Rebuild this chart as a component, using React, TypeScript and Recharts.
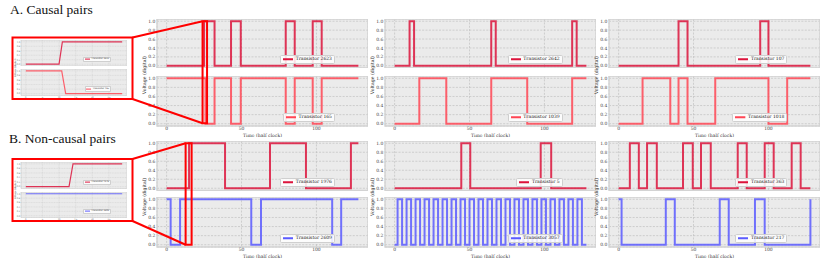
import React from 'react';
import { LineChart, Line, XAxis, YAxis, CartesianGrid, ReferenceArea, Legend } from 'recharts';

// step series: time of each level change (half clock) and the level from there on
const t2623 = [0, 25, 32, 43, 49.5, 79.5, 85.5, 97.5, 103.5, 128];
const v2623 = [0, 1, 0, 1, 0, 1, 0, 1, 0, 0];
const t165 = [0, 26, 32, 43, 49.5, 79.5, 85.5, 97.5, 103.5, 128];
const v165 = [1, 0, 1, 0, 1, 0, 1, 0, 1, 1];
const t2642 = [0, 10, 13, 64.5, 67.5, 118.5, 121.5, 128];
const v2642 = [0, 1, 0, 1, 0, 1, 0, 0];
const t1039 = [0, 16.5, 34.5, 64.5, 88.5, 118.5, 128];
const v1039 = [0, 1, 0, 1, 0, 1, 1];
const t107 = [0, 40, 46, 94.5, 100, 128];
const v107 = [0, 1, 0, 1, 0, 0];
const t1018 = [0, 16, 34.5, 40, 46, 64.5, 100, 112.5, 128];
const v1018 = [0, 1, 0, 1, 0, 1, 0, 1, 1];

const t1976 = [0, 15, 39, 69, 93, 123, 128];
const v1976 = [0, 1, 0, 1, 0, 1, 1];
const t2609 = [0, 2.7, 9, 56.5, 63, 110.5, 116.5, 128];
const v2609 = [1, 0, 1, 0, 1, 0, 1, 1];
const t5 = [0, 44.5, 50.5, 97.5, 104.5, 128];
const v5 = [0, 1, 0, 1, 0, 0];
const t3057 = [0, 2, 5, 8, 11, 14, 17, 20, 23, 26, 29, 32, 35, 38, 41, 44, 47, 50, 53, 56, 59, 62, 65, 68, 71, 74, 77, 80, 83, 86, 89, 92, 95, 98, 101, 104, 107, 110, 113, 116, 119, 122, 125, 128];
const v3057 = [0, 1, 0, 1, 0, 1, 0, 1, 0, 1, 0, 1, 0, 1, 0, 1, 0, 1, 0, 1, 0, 1, 0, 1, 0, 1, 0, 1, 0, 1, 0, 1, 0, 1, 0, 1, 0, 1, 0, 1, 0, 1, 0, 0];
const t363 = [0, 7.5, 13.5, 19, 25.5, 43, 49.5, 55, 61.5, 79.5, 85.5, 97.5, 103.5, 115.5, 121.5, 128];
const v363 = [0, 1, 0, 1, 0, 1, 0, 1, 0, 1, 0, 1, 0, 1, 0, 0];
const t217 = [0, 2, 31.5, 37.5, 67.5, 73.5, 91, 97.5, 128];
const v217 = [1, 0, 1, 0, 1, 0, 1, 0, 1];

// zoomed insets (linear)
const tInsetA1 = [0, 10, 11, 29];
const vInsetA1 = [0, 0, 1, 1];
const tInsetA2 = [0, 10.8, 12, 29];
const vInsetA2 = [1, 1, 0, 0];
const tInsetB1 = [0, 13, 14.2, 29];
const vInsetB1 = [0, 0, 1, 1];
const tInsetB2 = [0, 29];
const vInsetB2 = [1, 1];

const zoomA = [24, 27];
const zoomB = [12.7, 16.7];

const xTicks = [0, 50, 100];
const yTicks = [0, 0.2, 0.4, 0.6, 0.8, 1.0];
const insetXTicks = [0, 5, 10, 15, 20, 25];

const FONT = '"DejaVu Serif", serif';
const RED = '#dc143c';
const PINK = '#ff4655';
const BLUE = '#5b5bff';

const X_DOMAIN: [number, number] = [-6.4, 134.4];
const Y_DOMAIN: [number, number] = [-0.05, 1.05];
const PLOT_W = 211;
const COL_LEFT = [157, 384.7, 609.4];
const ROWS = [
  { top: 19, h: 49, showX: false },
  { top: 75.5, h: 50, showX: true },
  { top: 141, h: 49.5, showX: false },
  { top: 197, h: 50, showX: true },
];

const IX_DOMAIN: [number, number] = [-1.45, 30.45];
const IY_DOMAIN: [number, number] = [-0.08, 1.08];
const INSET_LEFT = 21;
const INSET_W = 106;

const toRows = (ts: number[], vs: number[]) => ts.map((t, i) => ({ t, v: vs[i] }));

const mainPanels = [
  { col: 0, row: 0, name: 'Transistor 2623', t: t2623, v: v2623, color: RED },
  { col: 0, row: 1, name: 'Transistor 165', t: t165, v: v165, color: PINK },
  { col: 1, row: 0, name: 'Transistor 2642', t: t2642, v: v2642, color: RED },
  { col: 1, row: 1, name: 'Transistor 1039', t: t1039, v: v1039, color: PINK },
  { col: 2, row: 0, name: 'Transistor 107', t: t107, v: v107, color: RED },
  { col: 2, row: 1, name: 'Transistor 1018', t: t1018, v: v1018, color: PINK },
  { col: 0, row: 2, name: 'Transistor 1976', t: t1976, v: v1976, color: RED },
  { col: 0, row: 3, name: 'Transistor 2609', t: t2609, v: v2609, color: BLUE },
  { col: 1, row: 2, name: 'Transistor 5', t: t5, v: v5, color: RED },
  { col: 1, row: 3, name: 'Transistor 3057', t: t3057, v: v3057, color: BLUE },
  { col: 2, row: 2, name: 'Transistor 363', t: t363, v: v363, color: RED },
  { col: 2, row: 3, name: 'Transistor 217', t: t217, v: v217, color: BLUE },
];

const insetPanels = [
  { top: 39.5, h: 26, showX: false, name: 'Transistor 2623', t: tInsetA1, v: vInsetA1, color: RED },
  { top: 68.5, h: 26.5, showX: true, name: 'Transistor 165', t: tInsetA2, v: vInsetA2, color: PINK },
  { top: 162, h: 26.5, showX: false, name: 'Transistor 1976', t: tInsetB1, v: vInsetB1, color: RED },
  { top: 192, h: 25.5, showX: true, name: 'Transistor 2609', t: tInsetB2, v: vInsetB2, color: BLUE },
];

const xPx = (col: number, t: number) =>
  COL_LEFT[col] + ((t - X_DOMAIN[0]) / (X_DOMAIN[1] - X_DOMAIN[0])) * PLOT_W;
const yPx = (row: number, v: number) =>
  ROWS[row].top + ((Y_DOMAIN[1] - v) / (Y_DOMAIN[1] - Y_DOMAIN[0])) * ROWS[row].h;

function LegendBox({ label, color, fs }: { label: string; color: string; fs: number }) {
  return (
    <div
      style={{
        display: 'flex',
        alignItems: 'center',
        background: 'rgba(255,255,255,0.85)',
        border: `${fs * 0.12}px solid #cfcfcf`,
        borderRadius: fs * 0.35,
        padding: `${fs * 0.3}px ${fs * 0.45}px`,
        fontFamily: FONT,
        fontSize: fs,
        lineHeight: 1,
        color: '#222',
        whiteSpace: 'nowrap',
      }}
    >
      <svg width={fs * 2.3} height={fs} style={{ marginRight: fs * 0.55 }}>
        <line x1={0} x2={fs * 2.3} y1={fs / 2} y2={fs / 2} stroke={color} strokeWidth={fs * 0.45} />
      </svg>
      {label}
    </div>
  );
}

type PanelProps = {
  left: number;
  top: number;
  plotW: number;
  plotH: number;
  axisW: number;
  xh: number;
  showX: boolean;
  xDomain: [number, number];
  yDomain: [number, number];
  xt: number[];
  fs: number;
  data: { t: number; v: number }[];
  color: string;
  name: string;
  lineType: 'stepAfter' | 'linear';
  sw: number;
  legendRight: number;
  legendTop: number;
};

function Panel(p: PanelProps) {
  const xh = p.showX ? p.xh : 0;
  return (
    <div style={{ position: 'absolute', left: p.left - p.axisW, top: p.top }}>
      <LineChart
        width={p.plotW + p.axisW}
        height={p.plotH + xh}
        data={p.data}
        margin={{ top: 0, right: 0, bottom: 0, left: 0 }}
      >
        <CartesianGrid
          fill="#ebebeb"
          stroke="#b9b9b9"
          strokeDasharray={`${p.fs * 0.45} ${p.fs * 0.3}`}
          strokeWidth={p.fs * 0.13}
        />
        <XAxis
          type="number"
          dataKey="t"
          domain={p.xDomain}
          ticks={p.xt}
          interval={0}
          allowDataOverflow
          height={xh}
          hide={!p.showX}
          axisLine={false}
          tickLine={false}
          tickSize={0}
          tickMargin={p.fs * 0.2}
          tick={{ fontSize: p.fs, fontFamily: FONT, fill: '#444' }}
          label={{
            value: 'Time (half clock)',
            position: 'insideBottom',
            offset: 0,
            style: { fontSize: p.fs * 1.02, fontFamily: FONT, fill: '#333' },
          }}
        />
        <YAxis
          type="number"
          domain={p.yDomain}
          ticks={yTicks}
          interval={0}
          allowDataOverflow
          width={p.axisW}
          axisLine={false}
          tickLine={false}
          tickSize={0}
          tickMargin={p.fs * 0.35}
          tickFormatter={(v: number) => v.toFixed(1)}
          tick={{ fontSize: p.fs, fontFamily: FONT, fill: '#444' }}
        />
        <ReferenceArea
          x1={p.xDomain[0]}
          x2={p.xDomain[1]}
          y1={p.yDomain[0]}
          y2={p.yDomain[1]}
          fill="none"
          stroke="#d3d3d3"
          strokeWidth={p.fs * 0.3}
          ifOverflow="visible"
        />
        <Line
          type={p.lineType}
          dataKey="v"
          stroke={p.color}
          strokeOpacity={0.85}
          strokeWidth={p.sw}
          dot={false}
          isAnimationActive={false}
        />
        <Legend
          layout="horizontal"
          align="center"
          verticalAlign="middle"
          wrapperStyle={{ left: 'auto', right: p.legendRight, top: p.legendTop, width: 'auto' }}
          content={() => <LegendBox label={p.name} color={p.color} fs={p.fs} />}
        />
      </LineChart>
    </div>
  );
}

export default function App() {
  const axisW = 20;
  const insetAxisW = 5;
  const rectA = { x1: xPx(0, zoomA[0]), x2: xPx(0, zoomA[1]), y1: yPx(0, 1), y2: yPx(1, 0) };
  const rectB = { x1: xPx(0, zoomB[0]), x2: xPx(0, zoomB[1]), y1: yPx(2, 1), y2: yPx(3, 0) };
  const boxA = { x1: 12.5, x2: 132.5, y1: 37.5, y2: 99 };
  const boxB = { x1: 12.5, x2: 132.5, y1: 159, y2: 221 };
  return (
    <div style={{ position: 'absolute', left: 0, top: 0, width: 830, height: 264, background: '#fff', overflow: 'hidden' }}>
      {mainPanels.map((m, i) => {
        const r = ROWS[m.row];
        return (
          <Panel
            key={i}
            left={COL_LEFT[m.col]}
            top={r.top}
            plotW={PLOT_W}
            plotH={r.h}
            axisW={axisW}
            xh={11}
            showX={r.showX}
            xDomain={X_DOMAIN}
            yDomain={Y_DOMAIN}
            xt={xTicks}
            fs={4.5}
            data={toRows(m.t, m.v)}
            color={m.color}
            name={m.name}
            lineType="stepAfter"
            sw={2}
            legendRight={33}
            legendTop={r.h - 13}
          />
        );
      })}
      {insetPanels.map((m, i) => (
        <Panel
          key={'in' + i}
          left={INSET_LEFT}
          top={m.top}
          plotW={INSET_W}
          plotH={m.h}
          axisW={insetAxisW}
          xh={4}
          showX={m.showX}
          xDomain={IX_DOMAIN}
          yDomain={IY_DOMAIN}
          xt={insetXTicks}
          fs={2.2}
          data={toRows(m.t, m.v)}
          color={m.color}
          name={m.name}
          lineType="linear"
          sw={1.2}
          legendRight={16}
          legendTop={m.h - 9}
        />
      ))}
      <svg
        width={830}
        height={264}
        style={{ position: 'absolute', left: 0, top: 0, pointerEvents: 'none' }}
      >
        <text x={10} y={14} fontFamily='"Liberation Serif", serif' fontSize={13.5} fill="#111">
          A. Causal pairs
        </text>
        <text x={9} y={143} fontFamily='"Liberation Serif", serif' fontSize={13.5} fill="#111">
          B. Non-causal pairs
        </text>
        {COL_LEFT.map((cl, i) => (
          <g key={i} fontFamily={FONT} fontSize={4.7} fill="#333" textAnchor="middle">
            <text transform={`translate(${cl - 11},${(ROWS[0].top + ROWS[1].top + ROWS[1].h) / 2 + 3}) rotate(-90)`}>
              Voltage (digital)
            </text>
            <text transform={`translate(${cl - 11},${(ROWS[2].top + ROWS[3].top + ROWS[3].h) / 2 + 3}) rotate(-90)`}>
              Voltage (digital)
            </text>
          </g>
        ))}
        <g fontFamily={FONT} fontSize={2.3} fill="#333" textAnchor="middle">
          <text transform={`translate(15.5,68) rotate(-90)`}>Voltage (digital)</text>
          <text transform={`translate(15.5,190) rotate(-90)`}>Voltage (digital)</text>
        </g>
        <g fill="none" stroke="#ff0000" strokeWidth={2}>
          <rect x={boxA.x1} y={boxA.y1} width={boxA.x2 - boxA.x1} height={boxA.y2 - boxA.y1} />
          <rect x={boxB.x1} y={boxB.y1} width={boxB.x2 - boxB.x1} height={boxB.y2 - boxB.y1} />
          <rect x={rectA.x1} y={rectA.y1} width={rectA.x2 - rectA.x1} height={rectA.y2 - rectA.y1} />
          <rect x={rectB.x1} y={rectB.y1} width={rectB.x2 - rectB.x1} height={rectB.y2 - rectB.y1} />
          <line x1={boxA.x2} y1={boxA.y1} x2={rectA.x1} y2={rectA.y1} />
          <line x1={boxA.x2} y1={boxA.y2} x2={rectA.x1} y2={rectA.y2} />
          <line x1={boxB.x2} y1={boxB.y1} x2={rectB.x1} y2={rectB.y1} />
          <line x1={boxB.x2} y1={boxB.y2} x2={rectB.x1} y2={rectB.y2} />
        </g>
      </svg>
    </div>
  );
}
